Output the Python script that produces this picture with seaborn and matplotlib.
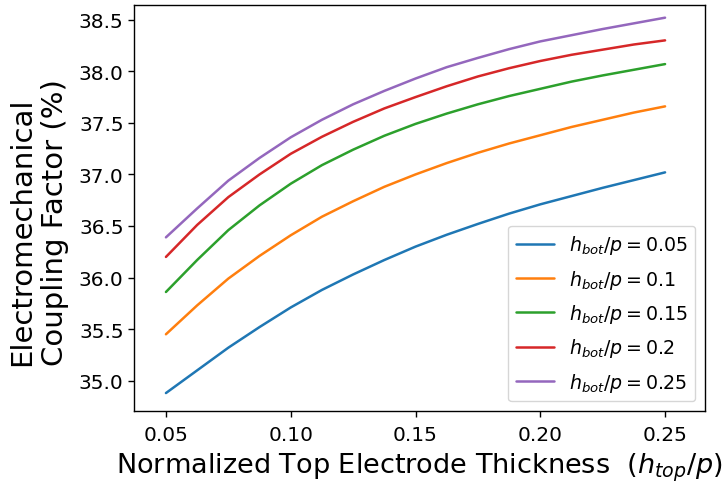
import numpy as np
import pandas as pd
import matplotlib
matplotlib.use("Agg")
import matplotlib.pyplot as plt
import seaborn as sns

x_vals = [0.05, 0.0625, 0.075, 0.0875, 0.10, 0.1125, 0.125, 0.1375, 0.15,
          0.1625, 0.175, 0.1875, 0.20, 0.2125, 0.225, 0.2375, 0.25]
hbot_005 = [34.88, 35.10, 35.32, 35.52, 35.71, 35.88, 36.03, 36.17, 36.30,
            36.415, 36.52, 36.62, 36.71, 36.79, 36.87, 36.945, 37.02]
hbot_010 = [35.45, 35.73, 35.99, 36.21, 36.41, 36.59, 36.74, 36.88, 37.00,
            37.11, 37.21, 37.30, 37.38, 37.46, 37.53, 37.60, 37.66]
hbot_015 = [35.86, 36.17, 36.46, 36.70, 36.91, 37.09, 37.24, 37.375, 37.49,
            37.59, 37.68, 37.76, 37.83, 37.90, 37.96, 38.015, 38.07]
hbot_020 = [36.20, 36.51, 36.78, 37.00, 37.20, 37.365, 37.51, 37.64, 37.75,
            37.855, 37.95, 38.03, 38.10, 38.16, 38.21, 38.26, 38.30]
hbot_025 = [36.39, 36.67, 36.94, 37.16, 37.36, 37.53, 37.68, 37.81, 37.93,
            38.04, 38.13, 38.215, 38.29, 38.35, 38.41, 38.465, 38.52]
series_labels = [r"$h_{bot}/p = 0.05$", r"$h_{bot}/p = 0.1$", r"$h_{bot}/p = 0.15$",
                 r"$h_{bot}/p = 0.2$", r"$h_{bot}/p = 0.25$"]
series_values = [hbot_005, hbot_010, hbot_015, hbot_020, hbot_025]
x_ticks = [0.05, 0.10, 0.15, 0.20, 0.25]
y_ticks = [35.0, 35.5, 36.0, 36.5, 37.0, 37.5, 38.0, 38.5]

rows = []
for lab, vals in zip(series_labels, series_values):
    for xv, yv in zip(x_vals, vals):
        rows.append({"x": xv, "y": yv, "series": lab})
df = pd.DataFrame(rows)

sns.set_theme(style="ticks")
plt.rcParams['font.family'] = ['DejaVu Sans']
for k in ["text.color", "axes.labelcolor", "xtick.color", "ytick.color", "axes.edgecolor"]:
    plt.rcParams[k] = "black"

fig, ax = plt.subplots(figsize=(7.24, 4.85), dpi=100)
fig.subplots_adjust(left=134 / 724, right=705 / 724, top=1 - 6 / 485, bottom=1 - 412 / 485)

sns.lineplot(data=df, x="x", y="y", hue="series", hue_order=series_labels,
             palette=sns.color_palette("tab10", 5), linewidth=1.8, ax=ax)

ax.set_xlim(0.0372, 0.266)
ax.set_ylim(34.706, 38.643)
ax.set_xticks(x_ticks)
ax.set_xticklabels([f"{t:.2f}" for t in x_ticks])
ax.set_yticks(y_ticks)
ax.set_yticklabels([f"{t:.1f}" for t in y_ticks])
ax.tick_params(axis="both", labelsize=14.5, direction="out", length=4, width=1,
               colors="black")
ax.tick_params(axis="x", pad=6)
for s in ax.spines.values():
    s.set_color("black")
    s.set_linewidth(1.0)
ax.set_xlabel(r"Normalized Top Electrode Thickness  $(h_{top}/p)$", fontsize=19.5,
              labelpad=5)
ax.set_ylabel("Electromechanical\nCoupling Factor (%)", fontsize=21,
              multialignment="left")
ax.yaxis.set_label_coords(-0.114, 0.467)

leg = ax.legend(loc="lower right", fontsize=13.7, frameon=True, handlelength=2.0,
                labelspacing=0.6)
leg.set_title(None)

fig.savefig("out.png", dpi=100)
